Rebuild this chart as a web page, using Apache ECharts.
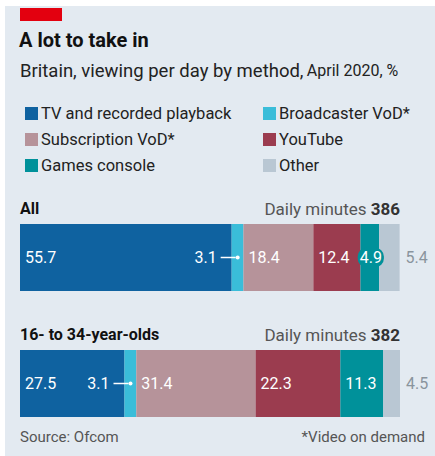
<!DOCTYPE html>
<html>
<head>
<meta charset="utf-8">
<script src="https://cdn.jsdelivr.net/npm/echarts@6/dist/echarts.min.js"></script>
<style>
  html, body { margin: 0; padding: 0; background: #fff; }
  #chart { width: 435px; height: 456px; }
</style>
</head>
<body>
<div id="chart"></div>
<script>
// data
const methods = ['TV and recorded playback', 'Broadcaster VoD*', 'Subscription VoD*', 'YouTube', 'Games console', 'Other'];
const groups = ['All', '16- to 34-year-olds'];
const dailyMinutes = [386, 382];
const allShares = [55.7, 3.1, 18.4, 12.4, 4.9, 5.4];
const youngShares = [27.5, 3.1, 31.4, 22.3, 11.3, 4.5];

const palette = ['#0f62a0', '#3abdd9', '#b6939a', '#9b3c4f', '#00919a', '#b9c7d3'];
const FONT = 'Roboto, sans-serif';
const bg = '#e3eaf1';

const shares = [allShares, youngShares];
const gridTops = [224, 350];

function labelFor(j, v) {
    const base = { show: true, color: '#fff', fontSize: 16, fontFamily: FONT };
    if (j === 1) {
        // broadcaster: value sits to the left with a pointer line
        return Object.assign(base, {
            position: 'left', distance: -8,
            formatter: '{v|' + v + '} {l|}{d|}',
            rich: {
                v: { color: '#fff', fontSize: 16, fontFamily: FONT },
                l: { width: 15, height: 1.5, backgroundColor: '#fff' },
                d: { width: 4, height: 4, borderRadius: 2, backgroundColor: '#fff' }
            }
        });
    }
    if (j === 5) {
        return Object.assign(base, { position: 'right', distance: 6, color: '#8a949d' });
    }
    if (j === 4 && v < 6) {
        return Object.assign(base, {
            position: 'inside', offset: [1, 0],
            backgroundColor: palette[4], borderRadius: 9, padding: [2, 2]
        });
    }
    return Object.assign(base, { position: 'insideLeft', distance: 5 });
}

const series = [];
shares.forEach((arr, g) => {
    arr.forEach((v, j) => {
        series.push({
            name: methods[j],
            type: 'bar',
            xAxisIndex: g,
            yAxisIndex: g,
            stack: 'grp' + g,
            barWidth: 67,
            itemStyle: { color: palette[j] },
            label: labelFor(j, v),
            emphasis: { disabled: true },
            data: [v]
        });
    });
});

const legendCommon = {
    orient: 'vertical',
    top: 100,
    itemWidth: 13,
    itemHeight: 13,
    itemGap: 9,
    icon: 'rect',
    selectedMode: false,
    textStyle: { fontSize: 16.5, color: '#222', fontFamily: FONT, padding: [0, 0, 0, -2] }
};

const graphics = [
    { type: 'rect', shape: { x: 5, y: 6, width: 430, height: 450 }, style: { fill: bg }, z: -10 },
    { type: 'rect', shape: { x: 20, y: 8, width: 42, height: 13 }, style: { fill: '#e3000f' } },
    { type: 'text', left: 19, top: 30, style: { text: 'A lot to take in', fontSize: 20, fontWeight: 'bold', fill: '#111', fontFamily: FONT } },
    {
        type: 'text', left: 20, top: 61,
        style: {
            text: '{a|Britain, viewing per day by method,} {b|April 2020, %}',
            rich: {
                a: { fontSize: 18.5, fill: '#222', fontFamily: FONT },
                b: { fontSize: 16, fill: '#222', fontFamily: FONT }
            }
        }
    },
    { type: 'text', left: 20, top: 429, style: { text: 'Source: Ofcom', fontSize: 15, fill: '#555', fontFamily: FONT } },
    { type: 'text', right: 10, top: 429, style: { text: '*Video on demand', fontSize: 15, fill: '#555', fontFamily: FONT } }
];
groups.forEach((name, g) => {
    graphics.push({ type: 'text', left: 20, top: gridTops[g] - 24, style: { text: name, fontSize: 16, fontWeight: 'bold', fill: '#111', fontFamily: FONT } });
    graphics.push({
        type: 'text', right: 35, top: gridTops[g] - 24,
        style: {
            text: '{n|Daily minutes }{b|' + dailyMinutes[g] + '}',
            rich: {
                n: { fontSize: 17, fill: '#555', fontFamily: FONT },
                b: { fontSize: 17, fill: '#333', fontWeight: 'bold', fontFamily: FONT }
            }
        }
    });
});

const option = {
    animation: false,
    backgroundColor: '#fff',
    legend: [
        Object.assign({ left: 20, data: [methods[0], methods[2], methods[4]] }, legendCommon),
        Object.assign({ left: 258, data: [methods[1], methods[3], methods[5]] }, legendCommon)
    ],
    grid: gridTops.map(t => ({ left: 20, width: 380, top: t, height: 67 })),
    xAxis: gridTops.map((t, g) => ({ type: 'value', gridIndex: g, min: 0, max: 100, show: false })),
    yAxis: gridTops.map((t, g) => ({ type: 'category', gridIndex: g, data: [groups[g]], show: false })),
    graphic: graphics,
    series: series
};

const chart = echarts.init(document.getElementById('chart'), null, { renderer: 'svg' });
chart.setOption(option);
</script>
</body>
</html>
